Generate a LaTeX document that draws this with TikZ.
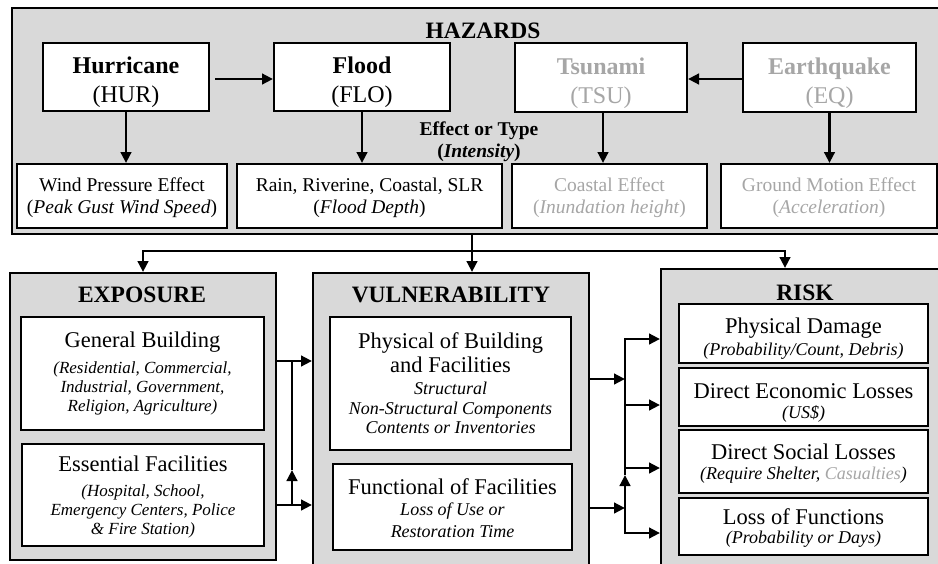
\documentclass[tikz,border=0pt]{standalone}
\usepackage{fontspec}
\setmainfont{Liberation Serif}
\usetikzlibrary{arrows.meta}
\definecolor{boxgray}{RGB}{217,217,217}
\definecolor{txtgray}{RGB}{166,166,166}
\newcommand\fHz{\fontsize{24}{29}\selectfont}
\newcommand\fEf{\fontsize{19.5}{22}\selectfont}
\newcommand\fMain{\fontsize{22.5}{24}\selectfont\upshape}
\newcommand\fSub{\fontsize{18}{19.5}\selectfont\itshape}
\newcommand\fSubE{\fontsize{17}{19}\selectfont\itshape}
\newcommand\fTitle{\fontsize{23.5}{26}\selectfont\bfseries}
\newcommand\lift[1]{\rule{0pt}{#1}}
\begin{document}
\begin{tikzpicture}[x=1pt,y=-1pt,
  container/.style={draw=black, line width=2pt, fill=boxgray, inner sep=0pt},
  hbox/.style={draw=black, line width=2pt, fill=white, align=center, inner sep=0pt, font=\fHz},
  ebox/.style={draw=black, line width=2pt, fill=white, align=center, inner sep=0pt, font=\fEf},
  sbox/.style={draw=black, line width=2pt, fill=white, align=center, inner sep=0pt, font=\fSub},
  ttl/.style={font=\fTitle, inner sep=0pt},
  conn/.style={line width=2.9pt},
  arr/.style={conn, -{Triangle[length=11pt,width=10.5pt]}},
  faded/.style={text=txtgray}
]
\useasboundingbox (0,0) rectangle (938,563);
\fill[white] (0,0) rectangle (938,563);

% ---------- HAZARDS ----------
\node[container, line width=2.7pt, minimum width=940pt, minimum height=226pt] (haz) at (482,121) {};
\node[ttl] (hazt) at (483,31) {HAZARDS};

\node[hbox, minimum width=166pt, minimum height=68pt] (hur) at (126,77) {\lift{28pt}\textbf{Hurricane}\\(HUR)};
\node[hbox, minimum width=176pt, minimum height=68pt] (flo) at (362,77) {\lift{28pt}\textbf{Flood}\\(FLO)};
\node[hbox, faded, minimum width=172pt, minimum height=69pt] (tsu) at (601,77.5) {\lift{28.5pt}\textbf{Tsunami}\\(TSU)};
\node[hbox, faded, minimum width=173pt, minimum height=69pt] (eq) at (829.5,77.5) {\lift{28.5pt}\textbf{Earthquake}\\(EQ)};

\draw[arr, shorten <=5pt] ([yshift=-2pt]hur.east) -- ([yshift=-2pt]flo.west);
\draw[arr] ([yshift=-1.5pt]eq.west) -- ([yshift=-1.5pt]tsu.east);

\node[ebox, minimum width=210pt, minimum height=64pt] (wind) at (122,196) {\lift{17pt}Wind Pressure Effect\\(\textit{Peak Gust Wind Speed})};
\node[ebox, minimum width=265pt, minimum height=64pt] (rain) at (369.5,196) {\lift{17pt}Rain, Riverine, Coastal, SLR\\(\textit{Flood Depth})};
\node[ebox, faded, minimum width=195pt, minimum height=64pt] (coast) at (609.5,196) {\lift{17pt}Coastal Effect\\(\textit{Inundation height})};
\node[ebox, faded, minimum width=216pt, minimum height=64pt] (ground) at (829,196) {\lift{17pt}Ground Motion Effect\\(\textit{Acceleration})};

\draw[arr] (hur.south) -- (hur.south |- wind.north);
\draw[arr] (flo.south) -- (flo.south |- rain.north);
\draw[arr] ([xshift=2pt]tsu.south) -- ([xshift=2pt]tsu.south |- coast.north);
\draw[arr] (eq.south) -- (eq.south |- ground.north);

\node[font=\fEf\bfseries, align=center, inner sep=0pt] (eot) at (479,142) {Effect or Type\\(\textit{Intensity})};

% ---------- lower containers ----------
\node[container, minimum width=266pt, minimum height=287pt] (exp) at (143,416.5) {};
\node[container, minimum width=276pt, minimum height=327pt] (vul) at (451,436.5) {};
\node[container, minimum width=309pt, minimum height=331pt] (risk) at (815.5,434.5) {};
\node[ttl] (expt) at (142,295) {EXPOSURE};
\node[ttl] (vult) at (451,295) {VULNERABILITY};
\node[ttl] (riskt) at (805,293) {RISK};

\node[sbox, font=\fSubE, minimum width=243pt, minimum height=113pt] (gb) at (142.5,373.5)
  {{\fMain General Building}\\[7pt](Residential, Commercial,\\Industrial, Government,\\Religion, Agriculture)};
\node[sbox, font=\fSubE, minimum width=242pt, minimum height=102pt] (ef) at (143,495)
  {{\fMain \lift{20pt}Essential Facilities}\\[6pt](Hospital, School,\\Emergency Centers, Police\\\& Fire Station)};

\node[sbox, minimum width=241pt, minimum height=133pt] (phys) at (450.5,383.5)
  {{\fMain Physical of Building}\\[2pt]{\fMain and Facilities}\\[3pt]Structural\\Non-Structural Components\\Contents or Inventories};
\node[sbox, minimum width=239pt, minimum height=86pt] (func) at (452.5,507)
  {{\fMain \lift{18pt}Functional of Facilities}\\[2pt]Loss of Use or\\[2pt]Restoration Time};

\node[sbox, minimum width=249pt, minimum height=59pt] (pd) at (803.5,333.5)
  {{\fMain \lift{26pt}Physical Damage}\\[3pt](Probability/Count, Debris)};
\node[sbox, minimum width=249pt, minimum height=58pt] (de) at (803.5,397)
  {{\fMain \lift{27pt}Direct Economic Losses}\\[1pt](US\$)};
\node[sbox, minimum width=249pt, minimum height=63pt] (ds) at (803.5,461.5)
  {{\fMain \lift{19.5pt}Direct Social Losses}\\[1pt](Require Shelter, \textcolor{txtgray}{Casualties})};
\node[sbox, minimum width=249pt, minimum height=57pt] (lf) at (803.5,526.5)
  {{\fMain \lift{18.5pt}Loss of Functions}\\[0pt](Probability or Days)};

% ---------- hazard distribution ----------
\coordinate (trunk) at (472,251);
\coordinate (hr) at (785,251);
\draw[arr] (haz.south -| trunk) -- (vul.north -| trunk);
\draw[arr] (trunk) -| (exp.north);
\draw[arr] (trunk) -| (risk.north -| hr);

% ---------- exposure -> vulnerability ----------
\coordinate (ja) at (292,361);
\coordinate (jb) at (292,505);
\coordinate (jm) at (292,470);
\draw[arr] (exp.east |- ja) -- (vul.west |- ja);
\draw[arr] (exp.east |- jb) -- (vul.west |- jb);
\draw[arr] (jb) -- (jm);
\draw[conn] (jm) -- (ja);

% ---------- vulnerability -> risk ----------
\coordinate (ka) at (625,379);
\coordinate (kb) at (625,508);
\coordinate (k1) at (625,339);
\coordinate (k2) at (625,405);
\coordinate (k3) at (625,468);
\coordinate (k4) at (625,533);
\coordinate (km) at (625,475);
\draw[arr] (vul.east |- ka) -- (ka);
\draw[arr] (vul.east |- kb) -- (kb);
\draw[arr, line cap=rect] (k4) -- (km);
\draw[arr] (km) -- (k1) -- (risk.west |- k1);
\draw[arr] (k2) -- (risk.west |- k2);
\draw[arr] (k3) -- (risk.west |- k3);
\draw[arr] (k4) -- (risk.west |- k4);
\end{tikzpicture}
\end{document}
